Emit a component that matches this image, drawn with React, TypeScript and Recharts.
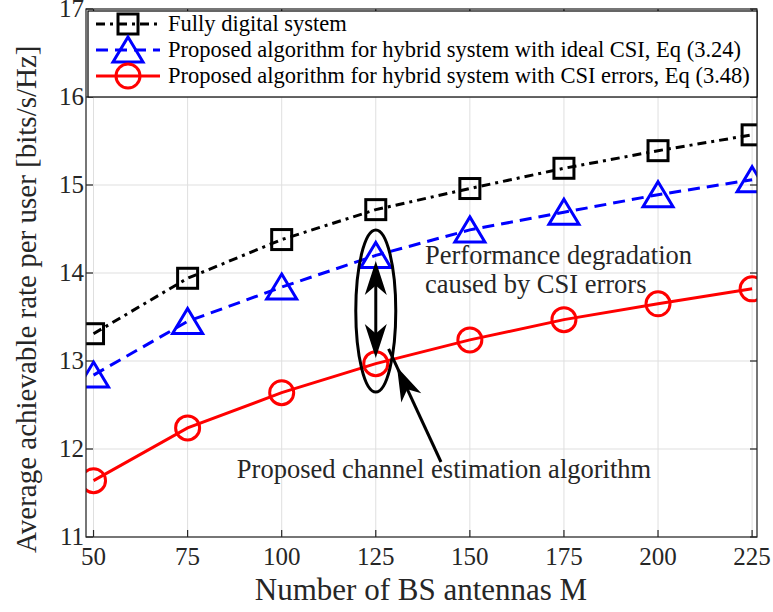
import React from 'react';
import { LineChart, Line, XAxis, YAxis, CartesianGrid } from 'recharts';

// Number of BS antennas and the achievable rate for each scheme
const antennas = [50, 75, 100, 125, 150, 175, 200, 225];
const fullyDigital = [13.31, 13.94, 14.38, 14.72, 14.96, 15.19, 15.39, 15.57];
const idealCsi = [12.84, 13.45, 13.84, 14.2, 14.49, 14.69, 14.89, 15.06];
const csiErrors = [11.64, 12.24, 12.64, 12.97, 13.24, 13.47, 13.65, 13.82];

const xTicks = [50, 75, 100, 125, 150, 175, 200, 225];
const yTicks = [11, 12, 13, 14, 15, 16, 17];

const legendLabels = [
  'Fully digital system',
  'Proposed algorithm for hybrid system with ideal CSI, Eq (3.24)',
  'Proposed algorithm for hybrid system with CSI errors, Eq (3.48)',
];

const data = antennas.map((m, i) => ({
  m,
  digital: fullyDigital[i],
  ideal: idealCsi[i],
  errors: csiErrors[i],
}));

const W = 773;
const H = 612;
const X_DOMAIN: [number, number] = [48, 226.3];
const Y_DOMAIN: [number, number] = [11, 17];
// plot box
const L = 86;
const R = 757;
const T = 9;
const B = 537;

const px = (v: number) => L + ((v - X_DOMAIN[0]) / (X_DOMAIN[1] - X_DOMAIN[0])) * (R - L);
const py = (v: number) => B - ((v - Y_DOMAIN[0]) / (Y_DOMAIN[1] - Y_DOMAIN[0])) * (B - T);

const FONT = '"Liberation Serif", "Times New Roman", serif';
const AXIS = '#262626';
const BLACK = '#000000';
const BLUE = '#0000ff';
const RED = '#ff0000';

const Square = ({ cx, cy, color }: any) => (
  <rect x={cx - 10} y={cy - 10} width={20} height={20} fill="none" stroke={color} strokeWidth={3} />
);

const Triangle = ({ cx, cy, color }: any) => (
  <polygon
    points={`${cx},${cy - 13} ${cx + 15},${cy + 12} ${cx - 15},${cy + 12}`}
    fill="none"
    stroke={color}
    strokeWidth={3}
  />
);

const Circle = ({ cx, cy, color }: any) => (
  <circle cx={cx} cy={cy} r={12} fill="none" stroke={color} strokeWidth={3} />
);

const XTick = ({ x, y, payload }: any) => (
  <text x={x} y={y + 26} textAnchor="middle" fontFamily={FONT} fontSize={25} fill={AXIS}>
    {payload.value}
  </text>
);

const YTick = ({ x, y, payload }: any) => (
  <text x={x} y={y + 8} textAnchor="end" fontFamily={FONT} fontSize={25} fill={AXIS}>
    {payload.value}
  </text>
);

// filled arrow head with a notched back, tip at (x, y) pointing along angle
function arrowHead(x: number, y: number, angle: number, len = 34, half = 11) {
  const c = Math.cos(angle);
  const s = Math.sin(angle);
  const pt = (a: number, b: number) => `${x + a * c - b * s},${y + a * s + b * c}`;
  return [pt(0, 0), pt(-len, half), pt(-len * 0.72, 0), pt(-len, -half)].join(' ');
}

function Overlay() {
  const legendRows = [
    { y: 24, color: BLACK, dash: '9 5 3 5', Marker: Square },
    { y: 50, color: BLUE, dash: '12 7', Marker: Triangle },
    { y: 76, color: RED, dash: undefined, Marker: Circle },
  ];

  const ex = px(125);
  const up = -Math.PI / 2;
  const arrowTail = { x: 441, y: 462 };
  const arrowTip = { x: 397, y: 367 };
  const arrowAng = Math.atan2(arrowTip.y - arrowTail.y, arrowTip.x - arrowTail.x);

  return (
    <svg width={W} height={H} style={{ position: 'absolute', left: 0, top: 0, pointerEvents: 'none' }}>
      {/* frame and inward ticks */}
      <rect x={L} y={T} width={R - L} height={B - T} fill="none" stroke={AXIS} strokeWidth={1.2} />
      {xTicks.map((t) => (
        <g key={`xt${t}`}>
          <line x1={px(t)} x2={px(t)} y1={B} y2={B - 7} stroke={AXIS} strokeWidth={1.2} />
          <line x1={px(t)} x2={px(t)} y1={T} y2={T + 7} stroke={AXIS} strokeWidth={1.2} />
        </g>
      ))}
      {yTicks.map((t) => (
        <g key={`yt${t}`}>
          <line x1={L} x2={L + 7} y1={py(t)} y2={py(t)} stroke={AXIS} strokeWidth={1.2} />
          <line x1={R} x2={R - 7} y1={py(t)} y2={py(t)} stroke={AXIS} strokeWidth={1.2} />
        </g>
      ))}

      {/* legend */}
      <rect x={88} y={11} width={R - 88} height={86} fill="#ffffff" stroke={BLACK} strokeWidth={1.2} />
      {legendRows.map(({ y, color, dash, Marker }, i) => (
        <g key={i}>
          <line x1={96} x2={160} y1={y} y2={y} stroke={color} strokeWidth={3} strokeDasharray={dash} />
          <Marker cx={128} cy={y} color={color} />
          <text x={168} y={y + 7} fontFamily={FONT} fontSize={22.5} fill={BLACK}>
            {legendLabels[i]}
          </text>
        </g>
      ))}

      {/* y axis title */}
      <text transform="translate(36, 553) rotate(-90)" fontFamily={FONT} fontSize={29} fill={AXIS}>
        Average achievable rate per user [bits/s/Hz]
      </text>

      {/* x axis title */}
      <text x={421} y={600} fontFamily={FONT} fontSize={31} fill={AXIS} textAnchor="middle">
        Number of BS antennas M
      </text>

      {/* annotations */}
      <ellipse cx={ex} cy={311} rx={20} ry={81} fill="none" stroke={BLACK} strokeWidth={3} />
      <line x1={ex} x2={ex} y1={280} y2={340} stroke={BLACK} strokeWidth={3} />
      <polygon points={arrowHead(ex, 261, up)} fill={BLACK} />
      <polygon points={arrowHead(ex, 358, -up)} fill={BLACK} />
      <line
        x1={arrowTail.x}
        y1={arrowTail.y}
        x2={arrowTip.x + 20 * Math.cos(arrowAng)}
        y2={arrowTip.y + 20 * Math.sin(arrowAng)}
        stroke={BLACK}
        strokeWidth={3}
      />
      <polygon points={arrowHead(arrowTip.x, arrowTip.y, arrowAng)} fill={BLACK} />

      <text x={425} y={264} fontFamily={FONT} fontSize={26.5} fill={AXIS}>
        Performance degradation
      </text>
      <text x={425} y={293} fontFamily={FONT} fontSize={26.5} fill={AXIS}>
        caused by CSI errors
      </text>
      <text x={444} y={478} fontFamily={FONT} fontSize={26.5} fill={AXIS} textAnchor="middle">
        Proposed channel estimation algorithm
      </text>
    </svg>
  );
}

export default function App() {
  return (
    <div style={{ position: 'absolute', left: 0, top: 0, width: W, height: H, background: '#ffffff' }}>
      <LineChart width={W} height={H} data={data} margin={{ top: T, right: W - R, bottom: 0, left: 0 }}>
        <CartesianGrid stroke="#dfdfdf" strokeWidth={1} />
        <XAxis
          dataKey="m"
          type="number"
          domain={X_DOMAIN}
          ticks={xTicks}
          allowDataOverflow
          height={H - B}
          tickSize={0}
          tickLine={false}
          axisLine={false}
          tick={<XTick />}
        />
        <YAxis
          type="number"
          domain={Y_DOMAIN}
          ticks={yTicks}
          allowDataOverflow
          width={L}
          tickSize={0}
          tickLine={false}
          axisLine={false}
          tick={<YTick />}
        />
        <Line
          type="linear"
          dataKey="errors"
          stroke={RED}
          strokeWidth={3}
          isAnimationActive={false}
          dot={(p: any) => <Circle key={`r${p.index}`} cx={p.cx} cy={p.cy} color={RED} />}
        />
        <Line
          type="linear"
          dataKey="ideal"
          stroke={BLUE}
          strokeWidth={3}
          strokeDasharray="12 7"
          isAnimationActive={false}
          dot={(p: any) => <Triangle key={`b${p.index}`} cx={p.cx} cy={p.cy} color={BLUE} />}
        />
        <Line
          type="linear"
          dataKey="digital"
          stroke={BLACK}
          strokeWidth={3}
          strokeDasharray="9 5 3 5"
          isAnimationActive={false}
          dot={(p: any) => <Square key={`k${p.index}`} cx={p.cx} cy={p.cy} color={BLACK} />}
        />
      </LineChart>
      <Overlay />
    </div>
  );
}
